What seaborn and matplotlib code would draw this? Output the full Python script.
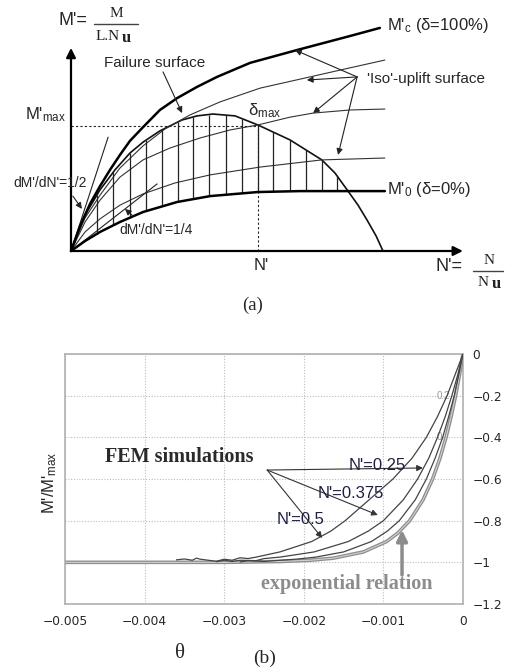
import numpy as np
import matplotlib
matplotlib.use("Agg")
import matplotlib.pyplot as plt
import seaborn as sns

# ---------------- panel (a): schematic interaction diagram (N', M') ----------------
mc_n = [0, 0.029, 0.061, 0.093, 0.125, 0.157, 0.189, 0.231, 0.285, 0.340, 0.404, 0.468, 0.574, 0.724, 0.894, 0.990]
mc_m = [0, 0.080, 0.151, 0.208, 0.260, 0.308, 0.353, 0.397, 0.452, 0.490, 0.526, 0.558, 0.603, 0.644, 0.689, 0.715]

fail_n = [0, 0.045, 0.093, 0.141, 0.189, 0.231, 0.285, 0.356, 0.404, 0.455, 0.526, 0.599, 0.702, 0.804, 0.846, 0.885, 0.920, 0.949, 0.978, 1.0]
fail_m = [0, 0.115, 0.196, 0.260, 0.314, 0.349, 0.385, 0.420, 0.433, 0.439, 0.433, 0.404, 0.356, 0.292, 0.250, 0.196, 0.147, 0.099, 0.048, 0]

iso1_n = [0, 0.045, 0.093, 0.157, 0.231, 0.301, 0.381, 0.478, 0.606, 0.766, 0.894, 1.006]
iso1_m = [0, 0.106, 0.179, 0.266, 0.337, 0.391, 0.436, 0.478, 0.522, 0.558, 0.587, 0.612]

iso2_n = [0, 0.045, 0.093, 0.157, 0.231, 0.317, 0.413, 0.510, 0.599, 0.702, 0.776, 0.894, 1.006]
iso2_m = [0, 0.093, 0.163, 0.237, 0.292, 0.330, 0.362, 0.388, 0.404, 0.429, 0.442, 0.452, 0.455]

iso3_n = [0, 0.045, 0.093, 0.157, 0.231, 0.333, 0.446, 0.606, 0.804, 1.006]
iso3_m = [0, 0.061, 0.103, 0.147, 0.183, 0.218, 0.244, 0.269, 0.292, 0.298]

m0_n = [0, 0.045, 0.093, 0.157, 0.231, 0.340, 0.446, 0.599, 0.734, 0.862, 1.006]
m0_m = [0, 0.032, 0.061, 0.093, 0.125, 0.157, 0.176, 0.189, 0.192, 0.192, 0.192]

tan_half_n = [0, 0.119]
tan_half_m = [0, 0.365]
tan_quarter_n = [0, 0.276]
tan_quarter_m = [0, 0.215]

hatch_n = [0.083, 0.135, 0.189, 0.240, 0.292, 0.343, 0.391, 0.442, 0.497, 0.548, 0.600, 0.648, 0.702, 0.753, 0.804, 0.853]

n_star = 0.599
m_max = 0.401
n_axis_end = 1.256
m_axis_end = 0.651

# ---------------- panel (b): M'/M'max vs theta ----------------
th_05 = [0, -0.0001, -0.0002, -0.00032, -0.00046, -0.00064, -0.00088, -0.00118, -0.00148, -0.00166,
         -0.0019, -0.0023, -0.0026, -0.0027, -0.0028, -0.0029, -0.0030, -0.0031, -0.0032, -0.0033,
         -0.00335, -0.0034, -0.0035, -0.0036]
m_05 = [0, -0.1, -0.2, -0.3, -0.4, -0.5, -0.6, -0.7, -0.8, -0.85,
        -0.9, -0.95, -0.975, -0.982, -0.978, -0.99, -0.985, -0.995, -0.99, -0.985,
        -0.98, -0.99, -0.984, -0.988]

th_0375 = [0, -0.000066, -0.00014, -0.000223, -0.00032, -0.00043, -0.00057, -0.00075, -0.001, -0.00119,
           -0.00144, -0.00187, -0.0023, -0.0025, -0.0026, -0.0028, -0.0029, -0.0030, -0.0031]
m_0375 = [0, -0.1, -0.2, -0.3, -0.4, -0.5, -0.6, -0.7, -0.8, -0.85,
          -0.9, -0.95, -0.975, -0.982, -0.992, -0.99, -0.996, -0.99, -0.997]

th_025 = [0, -0.000053, -0.00011, -0.00018, -0.000255, -0.00035, -0.00046, -0.0006, -0.0008, -0.00095,
          -0.00115, -0.0015, -0.00185, -0.0021, -0.0023, -0.0025, -0.0027, -0.0028]
m_025 = [0, -0.1, -0.2, -0.3, -0.4, -0.5, -0.6, -0.7, -0.8, -0.85,
         -0.9, -0.95, -0.975, -0.985, -0.99, -0.996, -0.992, -0.998]

th_exp = [0, -0.000044, -0.000093, -0.000149, -0.000213, -0.000289, -0.000382, -0.000502, -0.00067, -0.00082,
          -0.00096, -0.00125, -0.00163, -0.00192, -0.0023, -0.003, -0.005]
m_exp = [0, -0.1, -0.2, -0.3, -0.4, -0.5, -0.6, -0.7, -0.8, -0.86,
         -0.9, -0.95, -0.98, -0.99, -0.996, -1.0, -1.0]

xticks_b = [-0.005, -0.004, -0.003, -0.002, -0.001, 0]
xtick_labels_b = ['\u22120.005', '\u22120.004', '\u22120.003', '\u22120.002', '\u22120.001', '0']
yticks_b = [0, -0.2, -0.4, -0.6, -0.8, -1.0, -1.2]
ytick_labels_b = ['0', '\u22120.2', '\u22120.4', '\u22120.6', '\u22120.8', '\u22121', '\u22121.2']

fem_labels = ["N'=0.25", "N'=0.375", "N'=0.5"]
fem_label_pos = [(-0.00108, -0.533), (-0.00141, -0.672), (-0.00204, -0.792)]
fem_arrow_heads = [(-0.000503, -0.547), (-0.00107, -0.773), (-0.00177, -0.883)]
fem_arrow_tail = (-0.00246, -0.557)

# ---------------- styling ----------------
sns.set_theme(style="white")
plt.rcParams['font.family'] = ['Liberation Sans', 'DejaVu Sans']
plt.rcParams['mathtext.fontset'] = 'custom'
plt.rcParams['mathtext.rm'] = 'Liberation Sans'
plt.rcParams['mathtext.it'] = 'Liberation Sans:italic'
plt.rcParams['mathtext.bf'] = 'Liberation Sans:bold'

SERIF = ['Liberation Serif', 'DejaVu Serif']

fig = plt.figure(figsize=(5.05, 6.7), dpi=100)
fig.patch.set_facecolor('white')

# ======== panel (a) ========
axa = fig.add_axes([0, 1 - 320 / 670, 1, 320 / 670])
axa.set_xlim(-71 / 312, 434 / 312)
axa.set_ylim(-69 / 312, 251 / 312)
axa.axis('off')


def curve(ax, x, y, lw, color, z=2):
    sns.lineplot(x=x, y=y, ax=ax, sort=False, estimator=None, color=color,
                 linewidth=lw, legend=False, zorder=z)


curve(axa, mc_n, mc_m, 1.8, 'black', 3)
curve(axa, fail_n, fail_m, 1.2, '#111111')
curve(axa, iso1_n, iso1_m, 0.8, '#333333')
curve(axa, iso2_n, iso2_m, 0.8, '#333333')
curve(axa, iso3_n, iso3_m, 0.8, '#333333')
curve(axa, m0_n, m0_m, 1.8, 'black', 3)
curve(axa, tan_half_n, tan_half_m, 0.8, '#222222')
curve(axa, tan_quarter_n, tan_quarter_m, 0.8, '#222222')

for n in hatch_n:
    lo = np.interp(n, m0_n, m0_m)
    hi = np.interp(n, fail_n, fail_m)
    axa.vlines(n, lo, hi, color='#222222', linewidth=0.9, zorder=2)

axa.plot([0, n_star], [m_max, m_max], color='#222222', lw=0.8, ls=(0, (2, 2)))
axa.plot([n_star, n_star], [0, m_max], color='#222222', lw=0.8, ls=(0, (2, 2)))

axprops = dict(arrowstyle='-|>', color='black', lw=1.6, mutation_scale=14, shrinkA=0, shrinkB=0)
axa.annotate('', xy=(n_axis_end, 0), xytext=(0, 0), arrowprops=axprops)
axa.annotate('', xy=(0, m_axis_end), xytext=(0, 0), arrowprops=axprops)

thin = dict(arrowstyle='-|>', color='#222222', lw=0.8, mutation_scale=9, shrinkA=0, shrinkB=0)
axa.annotate('', xy=(0.356, 0.442), xytext=(0.295, 0.574), arrowprops=thin)
for head in [(0.718, 0.644), (0.756, 0.548), (0.776, 0.442), (0.856, 0.308)]:
    axa.annotate('', xy=head, xytext=(0.917, 0.558), arrowprops=thin)
axa.annotate('', xy=(0.035, 0.135), xytext=(0.006, 0.176), arrowprops=thin)
axa.annotate('', xy=(0.173, 0.135), xytext=(0.199, 0.112), arrowprops=thin)

axa.text(0.006, 0.740, "M'=", fontsize=13, ha='center', va='center')
axa.plot([0.074, 0.215], [0.728, 0.728], color='#444444', lw=1.0)
axa.text(0.144, 0.760, "M", family=SERIF, fontsize=11, ha='center', va='center', color='#222222')
axa.text(0.118, 0.688, "L.N", family=SERIF, fontsize=11, ha='center', va='center', color='#222222')
axa.text(0.178, 0.684, "u", family=SERIF, fontsize=12, fontweight='bold', ha='center', va='center', color='#222222')

axa.text(-0.147, 0.436, "M'$_{\\mathrm{max}}$", fontsize=12, ha='left', va='center')
axa.text(0.106, 0.603, "Failure surface", fontsize=11, ha='left', va='center')
axa.text(0.949, 0.551, "'Iso'-uplift surface", fontsize=11, ha='left', va='center')
axa.text(1.013, 0.724, "M'$_{\\mathrm{c}}$ (\u03b4=100%)", fontsize=12, ha='left', va='center')
axa.text(1.013, 0.196, "M'$_{\\mathrm{0}}$ (\u03b4=0%)", fontsize=12, ha='left', va='center')
axa.text(0.567, 0.449, "\u03b4$_{\\mathrm{max}}$", fontsize=12, ha='left', va='center')
axa.text(-0.186, 0.218, "dM'/dN'=1/2", fontsize=10, ha='left', va='center')
axa.text(0.154, 0.067, "dM'/dN'=1/4", fontsize=10, ha='left', va='center')
axa.text(0.609, -0.048, "N'", fontsize=12, ha='center', va='center')
axa.text(1.167, -0.051, "N'=", fontsize=13, ha='left', va='center')
axa.plot([1.288, 1.385], [-0.064, -0.064], color='#444444', lw=1.0)
axa.text(1.340, -0.029, "N", family=SERIF, fontsize=11, ha='center', va='center', color='#222222')
axa.text(1.322, -0.100, "N", family=SERIF, fontsize=11, ha='center', va='center', color='#222222')
axa.text(1.362, -0.106, "u", family=SERIF, fontsize=12, fontweight='bold', ha='center', va='center', color='#222222')

fig.text(253 / 505, 1 - 305 / 670, "(a)", family=SERIF, fontsize=13.5, ha='center', va='center')

# ======== panel (b) ========
axb = fig.add_axes([65 / 505, 1 - 604 / 670, 398 / 505, 250 / 670])
curve(axb, th_exp, m_exp, 2.6, '#8f8f8f', 3)
curve(axb, th_exp, m_exp, 0.7, '#d6d6d6', 3)
curve(axb, th_025, m_025, 0.9, '#444444', 4)
curve(axb, th_0375, m_0375, 0.9, '#444444', 4)
curve(axb, th_05, m_05, 0.9, '#444444', 4)

axb.set_xlim(-0.005, 0)
axb.set_ylim(-1.2, 0)
axb.set_xticks(xticks_b)
axb.set_xticklabels(xtick_labels_b, family=['DejaVu Sans'], fontsize=8.8)
axb.yaxis.tick_right()
axb.set_yticks(yticks_b)
axb.set_yticklabels(ytick_labels_b, family=['DejaVu Sans'], fontsize=8.8)
axb.tick_params(axis='x', length=0, pad=8)
axb.tick_params(axis='y', length=0, pad=7)
axb.set_xlabel('')
axb.set_ylabel('')
axb.grid(True, color='#bdbdbd', linestyle=(0, (1, 1.5)), linewidth=0.8)
for s in axb.spines.values():
    s.set_color('#b0b0b0')
    s.set_linewidth(1.2)

fprops = dict(arrowstyle='-|>', color='#333333', lw=0.8, mutation_scale=9, shrinkA=0, shrinkB=0)
for head in fem_arrow_heads:
    axb.annotate('', xy=head, xytext=fem_arrow_tail, arrowprops=fprops, zorder=5)
for lab, pos in zip(fem_labels, fem_label_pos):
    axb.text(pos[0], pos[1], lab, fontsize=12, ha='center', va='center', color='#1f2040', zorder=6)

axb.text(-0.0045, -0.494, "FEM simulations", family=SERIF, fontweight='bold', fontsize=14.5,
         ha='left', va='center', color='#2a2a2a')
axb.text(-0.00146, -1.104, "exponential relation", family=SERIF, fontweight='bold', fontsize=14.5,
         ha='center', va='center', color='#8c8c8c')
axb.annotate('', xy=(-0.000766, -0.845), xytext=(-0.000766, -1.061),
             arrowprops=dict(arrowstyle='-|>', color='#8c8c8c', lw=2.5, mutation_scale=16,
                             shrinkA=0, shrinkB=0))
axb.text(-0.00025, -0.2, "0.2", fontsize=7, color='#9a9a9a', ha='center', va='center')
axb.text(-0.00028, -0.4, "0.", fontsize=7, color='#9a9a9a', ha='center', va='center')

fig.text(50 / 505, 1 - 483 / 670, "M'/M'$_{\\mathrm{max}}$", rotation=90, fontsize=12,
         ha='center', va='center')
fig.text(180 / 505, 1 - 653 / 670, "\u03b8", family=SERIF, fontsize=15, ha='center', va='center')
fig.text(265 / 505, 1 - 658 / 670, "(b)", family=SERIF, fontsize=14, ha='center', va='center')

fig.savefig("out.png", dpi=100, facecolor='white')
